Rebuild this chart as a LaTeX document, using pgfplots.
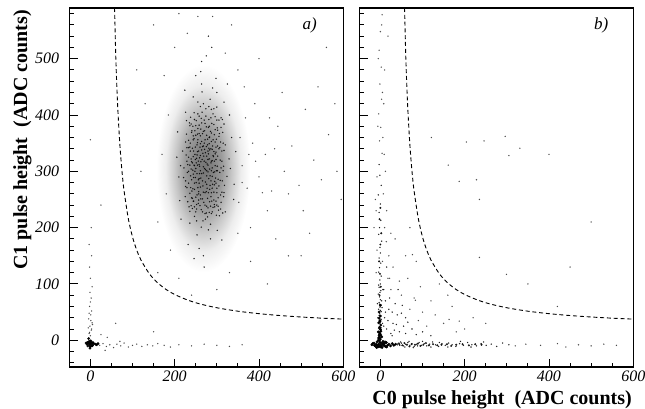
\documentclass[border=0pt]{standalone}
\usepackage{pgfplots}
\pgfplotsset{compat=1.18}
\usepackage{fontspec}
\setmainfont{Liberation Serif}
\pgfdeclareradialshading{cloudsh}{\pgfpointorigin}{color(0bp)=(black!54); color(5bp)=(black!49); color(10bp)=(black!39); color(15bp)=(black!22); color(20bp)=(black!7); color(25bp)=(white); color(50bp)=(white)}
\pgfdeclareplotmark{cloudA}{%
  \pgfpathellipse{\pgfpointorigin}{\pgfpoint{47pt}{0pt}}{\pgfpoint{0pt}{104pt}}%
  \pgfshadepath{cloudsh}{0}%
  \pgfusepath{discard}%
}
\newcommand{\tl}[1]{\textit{\fontsize{16}{16}\selectfont\pgfmathparse{int(round(#1))}\pgfmathresult}}
\pgfplotsset{
  myax/.style={
    scale only axis, width=274pt, height=359pt, anchor=south west,
    xmin=-50, xmax=600, ymin=-47.5, ymax=590,
    axis line style={line width=1.1pt},
    tick pos=left, tick align=inside,
    xtick={0,200,400,600}, minor x tick num=3,
    ytick={-100,0,100,200,300,400,500,600}, minor y tick num=4,
    major tick length=8.5pt, minor tick length=4.5pt,
    every tick/.style={line width=0.9pt, black},
    tick label style={inner sep=0pt},
    xticklabel={\tl{\tick}},
    yticklabel={\tl{\tick}},
    xticklabel style={yshift=-3.5pt},
    yticklabel style={xshift=-10pt},
  },
  speck/.style={only marks, mark=*, mark size=0.5pt, mark options={draw=none, fill=black, opacity=0.7}},
  sparse/.style={only marks, mark=*, mark size=0.5pt, mark options={draw=none, fill=black, opacity=0.5}},
  mid/.style={only marks, mark=*, mark size=0.8pt, mark options={draw=none, fill=black, opacity=0.8}},
  dense/.style={only marks, mark=*, mark size=1.2pt, mark options={draw=none, fill=black}},
  cut/.style={black, line width=0.9pt, dash pattern=on 4pt off 2.8pt, smooth},
}
\begin{document}
\begin{tikzpicture}[x=1pt,y=1pt]
\path[use as bounding box] (0,0) rectangle (645,408);
% ---------------- panel a ----------------
\begin{axis}[myax, at={(69.3pt,41pt)}]
\addplot[only marks, mark=cloudA] coordinates {(268,305)};
\addplot[speck] coordinates {
(271,305)(248,330)(295,282)(262,251)(283,361)(230,298)(312,318)(255,402)(289,228)(241,265)
(301,377)(266,344)(277,270)(219,336)(324,291)(259,309)(286,315)(244,356)(298,247)(268,420)
(252,212)(305,340)(236,381)(280,196)(262,288)(291,402)(225,255)(317,262)(273,333)(249,289)
(287,353)(258,367)(301,301)(239,322)(276,238)(264,455)(310,395)(228,366)(294,276)(256,243)
(282,322)(246,311)(271,372)(299,222)(233,279)(320,347)(262,317)(287,262)(251,390)(279,299)
(242,234)(306,367)(268,263)(214,310)(329,322)(257,336)(291,328)(247,268)(274,398)(303,286)
(236,343)(285,206)(262,375)(296,352)(250,254)(278,347)(231,312)(315,301)(266,228)(288,385)
(244,295)(273,281)(300,414)(255,356)(283,246)(239,384)(309,258)(261,301)(292,298)(227,329)
(276,364)(252,323)(298,334)(265,441)(281,287)(245,247)(317,384)(258,279)(286,340)(236,261)
(270,318)(304,231)(248,372)(294,365)(221,289)(278,252)(263,394)(296,310)(242,341)(284,428)
(257,264)(312,336)(239,304)(273,215)(290,277)(253,347)(280,378)(226,352)(305,274)(267,332)
(248,300)(287,301)(261,349)(300,391)(234,237)(276,292)(255,423)(293,249)(244,326)(282,360)
(269,245)(316,309)(251,280)(289,319)(238,396)(275,344)(263,201)(297,288)(229,271)(309,352)
(258,312)(285,238)(246,358)(272,385)(302,327)(240,285)(287,410)(254,335)(279,311)(233,325)
(295,237)(266,367)(250,305)(284,275)(261,258)(307,298)(243,380)(276,327)(290,345)(222,306)
(268,297)(300,262)(252,241)(281,392)(237,350)(313,283)(259,324)(283,338)(247,220)(270,350)
(294,318)(233,300)(275,264)(255,376)(305,362)(242,315)(287,225)(264,338)(298,279)(249,343)
(280,331)(226,283)(310,245)(261,415)(289,291)(240,253)(278,357)(253,296)(296,374)(268,308)
(285,180)(257,260)(314,369)(236,311)(272,240)(291,356)(245,336)(266,283)(302,345)(250,364)
(283,304)(229,342)(318,275)(260,239)(287,368)(241,372)(274,316)(299,301)(255,271)(281,415)
(238,292)(308,320)(264,353)(293,263)(247,310)(276,277)(332,305)(210,290)(253,187)(290,448)
(262,477)(244,432)(301,195)(320,228)(226,405)(335,360)(212,248)(275,505)(258,163)(317,423)
(205,325)(341,277)(236,208)(298,465)(268,150)(224,444)(330,400)(288,520)(250,470)(312,178)
(207,370)(345,335)(232,170)(280,540)(264,495)(340,250)(215,215)(300,440)(246,145)(325,455)
(270,130)(256,318)(279,321)(264,296)(289,306)(247,279)(272,356)(258,287)(293,335)(267,274)
(282,349)(253,329)(276,301)(261,363)(286,283)(243,302)(298,321)(269,327)(254,311)(283,268)
(231,246)(238,271)(245,289)(252,233)(259,296)(266,251)(273,303)(280,262)(287,318)(294,241)
(301,309)(308,284)(315,350)(233,355)(240,317)(247,392)(254,351)(261,328)(268,371)(275,226)
(282,380)(289,339)(296,397)(303,253)(310,378)(237,336)(244,363)(251,315)(258,398)(265,321)
(272,262)(279,336)(286,255)(293,383)(300,270)(307,342)(314,226)(229,318)(236,229)(243,269)
(250,381)(257,249)(264,386)(271,339)(278,219)(285,371)(292,326)(299,357)(306,221)(313,392)
(235,386)(242,252)(249,321)(256,285)(263,232)(270,391)(277,313)(284,292)(291,236)(298,343)
(305,391)(312,263)(226,273)(233,342)(240,369)(247,237)(254,366)(261,272)(268,345)(275,379)
(282,227)(289,270)(296,331)(303,238)(310,306)(317,337)(239,239)(246,404)(253,258)(260,343)
(267,212)(274,411)(281,341)(288,247)(295,299)(302,373)(309,233)(316,255)(228,390)(244,247)
(258,382)(272,225)(286,395)(300,240)(265,405)(250,228)(279,235)(293,411)
};
\addplot[sparse] coordinates {
(360,310)(372,270)(385,350)(400,290)(415,330)(430,265)(445,380)(460,300)(478,345)(495,275)
(510,410)(530,320)(548,285)(565,365)(585,300)(390,420)(420,230)(455,440)(505,230)(540,450)
(380,200)(350,190)(365,450)(180,260)(170,330)(160,210)(185,400)(175,470)(190,160)(200,520)
(230,545)(290,575)(320,510)(350,480)(400,500)(440,180)(470,150)(520,190)(580,420)(595,250)
(160,120)(210,110)(330,120)(380,140)(300,90)(240,80)(420,100)(500,150)(560,520)(120,300)
(130,420)(110,480)(150,560)(210,580)(255,575)(335,560)(0,356)(2,200)(-3,170)(25,240)
(355,360)(368,395)(392,318)(408,262)(437,340)(352,245)(376,330)(425,395)(470,260)(360,280)
};
% pedestal
\addplot[dense] coordinates {
(-5,-5)(-2,-8)(2,-4)(-8,-7)(5,-9)(0,-11)(-3,-2)(3,-6)(-6,-10)(8,-6)(-10,-5)(1,-1)
(12,-7)(15,-8)(18,-6)(-1,-14)(-4,3)(0,-6)(-2,-3)(4,-10)(6,-4)(-7,-4)
};
\addplot[sparse] coordinates {
(-3,12)(2,18)(-1,25)(4,31)(-4,38)(1,45)(3,52)(-2,60)(0,68)(2,75)(-1,85)(4,95)(0,110)(-2,130)(3,150)
(0,8)(-2,14)(3,20)(5,28)(-5,22)(1,35)(-3,48)
(22,-9)(30,-6)(38,-11)(46,-8)(55,-13)(63,-7)(72,-10)(80,-5)(90,-12)(100,-9)(110,-7)(122,-11)
(135,-8)(148,-10)(160,-6)(175,-9)(190,-12)(210,-8)(240,-10)(270,-7)(300,-9)(330,-11)(360,-8)
(25,10)(40,5)(60,30)(35,-18)(70,-2)(150,15)
};
\addplot[cut] coordinates {
(57.2,590)(58,570.6)(60,510)(62,465.5)(65,412)(70,346.7)(75,300)(80,265)(90,216)(100,183.3)
(110,160)(120,142.5)(140,118)(160,101.7)(180,90)(200,81.25)(230,71.6)(260,64.5)(300,57.7)
(350,51.6)(400,47.2)(450,43.9)(500,41.3)(550,39.2)(600,37.5)};
\node[anchor=base east, font=\fontsize{17}{17}\selectfont\itshape, inner sep=0pt] at (rel axis cs:0.904,0.94) {a)};
\end{axis}
% ---------------- panel b ----------------
\begin{axis}[myax, at={(359.3pt,41pt)}, yticklabel={\phantom{0}}]
\addplot[dense] coordinates {
(-20,-8)(-15,-5)(-12,-10)(-8,-3)(-6,-12)(-4,-7)(-2,-1)(0,-9)(2,-5)(4,-13)(6,-2)(8,-8)
(10,-6)(12,-11)(14,-4)(17,-9)(20,-7)(24,-10)(28,-6)(32,-9)(36,-7)(-10,-7)(-5,0)(-1,-4)
(3,-10)(7,-5)(-7,-9)(1,-12)(5,-7)(-3,-11)(9,-10)(-14,-9)(11,-3)(-18,-6)(15,-12)(-9,-13)
(0,2)(-4,4)(3,6)(-3,8)(-1,12)(-5,15)(0,19)(-2,23)(1,27)(-4,31)(-1,35)(-3,39)(0,43)(-2,10)(1,16)
(-2,5)(1,9)(-3,14)(0,22)(-1,33)(-3,50)(0,62)
};
\addplot[mid] coordinates {
(45,-7)(52,-9)(57,-5)(63,-8)(69,-11)(74,-7)(82,-8)(89,-6)(95,-10)(102,-8)(108,-5)(115,-9)
(125,-7)(135,-9)(145,-8)(158,-7)(168,-10)(180,-8)(195,-7)(210,-9)(225,-7)(240,-8)
(-2,80)(1,95)(-1,118)(-3,140)(0,170)(2,190)(-2,215)(0,235)
};
\addplot[speck] coordinates {
(40,-8)(44,-5)(-2,47)(2,51)(-4,55)(-1,59)(1,63)(-3,67)(0,72)(-2,77)(-5,82)(1,88)(-3,94)(0,100)
(-1,107)(2,114)(-4,121)(-2,129)(1,137)(-3,146)(0,155)(-1,165)(3,176)(-4,188)(-2,200)(1,213)
(-3,227)(0,242)(-5,258)(2,275)(-1,293)(-3,312)
(-4,21)(-1,29)(2,37)(-3,44)(0,53)(-2,64)(3,70)(-1,85)(-4,98)(4,58)(-6,40)(5,30)(-7,65)(6,90)
(42,-6)(46,-9)(50,-5)(55,-10)(60,-7)(65,-4)(70,-9)(75,-6)(80,-11)(86,-7)(92,-4)(98,-9)
(104,-6)(110,-10)(117,-7)(124,-3)(131,-8)(138,-11)(146,-6)(154,-9)(162,-5)(170,-8)(179,-11)
(188,-6)(197,-9)(207,-4)(217,-8)(228,-10)(239,-6)(251,-9)(263,-7)(276,-11)(290,-5)(305,-8)
(48,-3)(58,-12)(68,-2)(78,-13)(88,-10)(100,-2)(120,-12)(140,-4)(160,-12)(190,-2)(215,-12)(245,-3)
(15,20)(25,12)(10,40)(30,30)(45,15)(20,55)(40,45)(55,25)(12,70)(35,65)(60,40)(75,20)
(8,25)(18,35)(28,8)(12,50)(22,75)(38,28)(50,48)(8,90)(15,130)(28,50)(60,12)(85,10)(52,62)
(42,90)(100,15)(120,8)(65,32)(33,18)
};
\addplot[sparse] coordinates {
(4,332)(-2,354)(1,378)(-4,402)(3,428)(-1,455)(2,485)(-3,515)(0,548)(4,578)
(5,140)(10,200)(-10,230)(7,260)(-8,290)(9,330)(-6,380)(5,440)(-5,500)(3,560)
(-12,250)(15,230)(-8,160)(20,150)(12,300)(-15,200)(25,190)(8,420)(18,540)(10,480)(-10,120)(22,110)(14,175)(6,360)
(25,90)(50,80)(70,55)(90,35)(18,110)(45,105)(80,75)(100,50)(30,130)(65,110)(110,25)(130,45)
(150,30)(95,95)(120,70)(60,150)(85,140)(170,60)(140,100)(200,20)(220,40)(250,30)(180,15)(160,80)
(35,180)(70,200)(320,-10)(345,-7)(380,-9)(420,-6)(440,-12)(470,-8)(500,-10)(530,-7)(560,-9)
(121,360)(204,352)(246,354)(296,362)(305,328)(331,341)(161,311)(228,285)(187,282)(235,250)
(76,152)(235,147)(299,117)(83,71)(163,37)(187,34)(400,330)(450,130)(500,210)(350,100)(420,60)
};
\addplot[cut] coordinates {
(57.2,590)(58,570.6)(60,510)(62,465.5)(65,412)(70,346.7)(75,300)(80,265)(90,216)(100,183.3)
(110,160)(120,142.5)(140,118)(160,101.7)(180,90)(200,81.25)(230,71.6)(260,64.5)(300,57.7)
(350,51.6)(400,47.2)(450,43.9)(500,41.3)(550,39.2)(600,37.5)};
\node[anchor=base east, font=\fontsize{17}{17}\selectfont\itshape, inner sep=0pt] at (rel axis cs:0.909,0.94) {b)};
\end{axis}
\node[rotate=90, anchor=base east, inner sep=0pt, font=\bfseries\fontsize{20}{20}\selectfont] at (27pt,398pt) {C1 pulse height\ \ (ADC counts)};
\node[anchor=base east, inner sep=0pt, font=\bfseries\fontsize{20}{20}\selectfont] at (632pt,4pt) {C0 pulse height\ \ (ADC counts)};
\end{tikzpicture}
\end{document}
